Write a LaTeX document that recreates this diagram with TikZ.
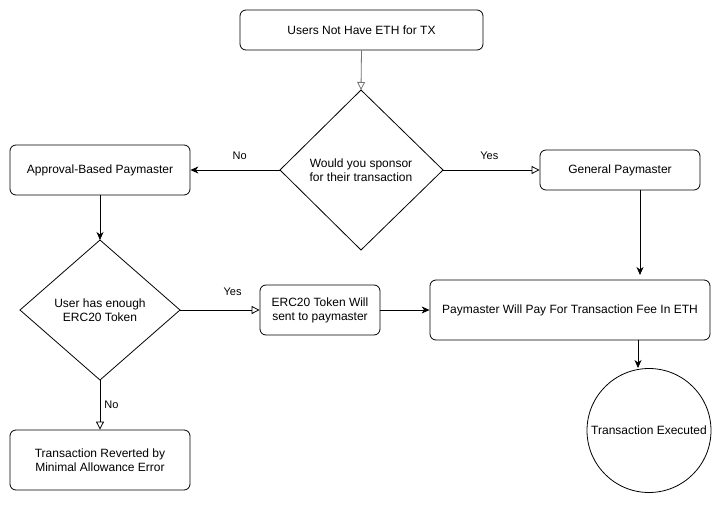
\documentclass[tikz,border=0pt]{standalone}
\usepackage{fontspec}
\setmainfont{Liberation Sans}
\usetikzlibrary{shapes.geometric,arrows.meta}
\begin{document}
\begin{tikzpicture}[x=1pt,y=-1pt,
  every node/.style={font=\fontsize{12}{14}\selectfont, align=center, inner sep=0pt},
  rbox/.style={draw, rounded corners=6pt, line width=0.8pt},
  dia/.style={draw, diamond, line width=0.8pt},
  lbl/.style={font=\fontsize{11}{13}\selectfont},
  fillarr/.style={line width=0.8pt, -{Stealth[length=8pt,width=7pt,inset=2.5pt]}},
  openarr/.style={line width=0.8pt, -{Triangle[open,length=8pt,width=8pt]}}]
\useasboundingbox (0,0) rectangle (721,504);
\fill[white] (0,0) rectangle (721,504);
\node[rbox, minimum width=243pt, minimum height=40pt] (start) at (361.5,30) {Users Not Have ETH for TX};
\draw[dia] (361,90) -- (443,170) -- (361,250) -- (280,170) -- cycle;
\node (d1) at (361,170) {Would you sponsor\\for their transaction};
\coordinate (d1t) at (361,90);
\coordinate (d1l) at (280,170);
\coordinate (d1r) at (443,170);
\node[rbox, minimum width=180pt, minimum height=50pt] (appr) at (100,170) {Approval-Based Paymaster};
\node[rbox, minimum width=160pt, minimum height=40pt] (gen) at (620,170) {General Paymaster};
\draw[dia] (100,240) -- (180,310) -- (100,380) -- (20,310) -- cycle;
\node (d2) at (100,310) {User has enough\\ERC20 Token};
\coordinate (d2t) at (100,240);
\coordinate (d2r) at (180,310);
\coordinate (d2b) at (100,380);
\node[rbox, minimum width=120pt, minimum height=50pt] (erc) at (320,310) {ERC20 Token Will\\sent to paymaster};
\node[rbox, minimum width=280pt, minimum height=60pt] (pay) at (570,310) {Paymaster Will Pay For Transaction Fee In ETH};
\node[draw, circle, line width=0.8pt, minimum size=124pt] (exec) at (649,430.5) {Transaction Executed};
\node[rbox, minimum width=180pt, minimum height=60pt] (rev) at (100,460) {Transaction Reverted by\\Minimal Allowance Error};
\coordinate (genb) at (640,190);
\coordinate (payt) at (640,275);
\coordinate (payb) at (638,340);
\coordinate (exect) at (638,368);
% connectors
\draw[openarr, draw=black!55] (start.south) -- (d1t);
\draw[fillarr] (d1l) -- (appr.east) node[lbl, pos=0.45, above=10pt] {No};
\draw[openarr] (d1r) -- (gen.west) node[lbl, pos=0.48, above=10pt] {Yes};
\draw[fillarr] (appr.south) -- (d2t);
\draw[openarr] (d2r) -- (erc.west) node[lbl, pos=0.66, above=14pt] {Yes};
\draw[fillarr] (erc.east) -- (pay.west);
\draw[fillarr] (genb) -- (payt);
\draw[fillarr] (payb) -- (exect);
\draw[openarr] (d2b) -- (rev.north) node[lbl, pos=0.5, right=4pt] {No};
\end{tikzpicture}
\end{document}
